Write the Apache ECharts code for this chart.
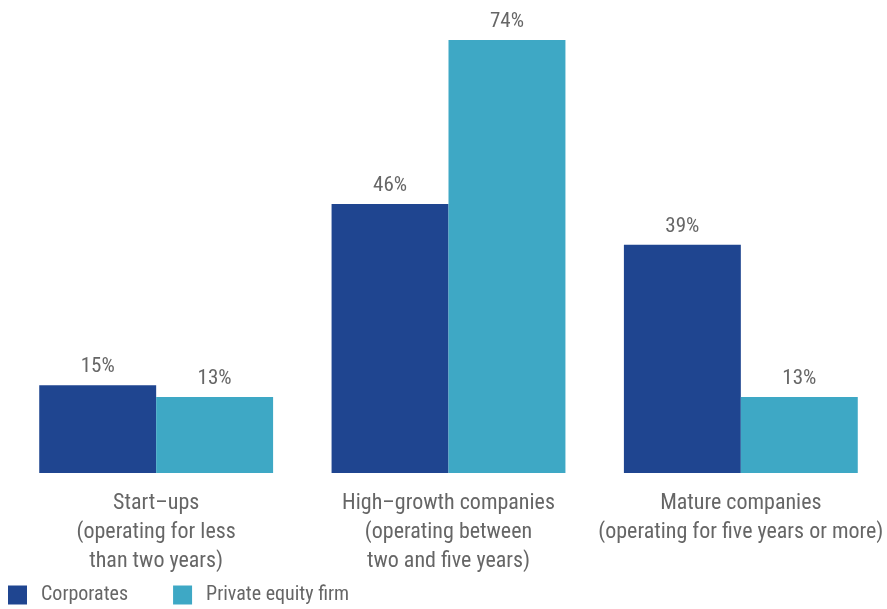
<!DOCTYPE html>
<html>
<head>
<meta charset="utf-8">
<script src="https://cdn.jsdelivr.net/npm/echarts@6/dist/echarts.min.js"></script>
<style>
  html, body { margin: 0; padding: 0; background: #fff; }
  #chart { width: 887px; height: 609px; }
</style>
</head>
<body>
<div id="chart"></div>
<script>
// Company stage categories (axis labels)
const categories = [
  'Start\u2013ups\n(operating for less\nthan two years)',
  'High\u2013growth companies\n(operating between\ntwo and five years)',
  'Mature companies\n(operating for five years or more)'
];
const seriesNames = ['Corporates', 'Private equity firm'];
const corporates = [15, 46, 39];
const privateEquity = [13, 74, 13];

const FONT = '"Roboto Condensed", Roboto, sans-serif';
const TEXT = '#666666';

const chart = echarts.init(document.getElementById('chart'));
chart.setOption({
  animation: false,
  grid: { left: 10, right: 0, top: 5, bottom: 136, containLabel: false },
  legend: {
    left: 3, top: 580, padding: 5,
    itemWidth: 19, itemHeight: 19, itemGap: 45,
    icon: 'rect',
    textStyle: { fontFamily: FONT, fontSize: 20, color: TEXT, padding: [5, 0, 0, 9] },
    data: seriesNames
  },
  xAxis: {
    type: 'category',
    data: categories,
    axisLine: { show: false },
    axisTick: { show: false },
    axisLabel: {
      interval: 0, margin: 16,
      fontFamily: FONT, fontSize: 22, color: TEXT, lineHeight: 29, align: 'center'
    }
  },
  yAxis: {
    type: 'value', min: 0, max: 80,
    show: false,
    splitLine: { show: false }
  },
  series: [
    {
      name: seriesNames[0], type: 'bar', data: corporates,
      barGap: '0%', barCategoryGap: '20%',
      itemStyle: { color: '#1f4590' },
      label: { show: true, position: 'top', distance: 8, formatter: '{c}%', fontFamily: FONT, fontSize: 21, color: TEXT }
    },
    {
      name: seriesNames[1], type: 'bar', data: privateEquity,
      barGap: '0%', barCategoryGap: '20%',
      itemStyle: { color: '#3ea8c5' },
      label: { show: true, position: 'top', distance: 8, formatter: '{c}%', fontFamily: FONT, fontSize: 21, color: TEXT }
    }
  ]
});
</script>
</body>
</html>
